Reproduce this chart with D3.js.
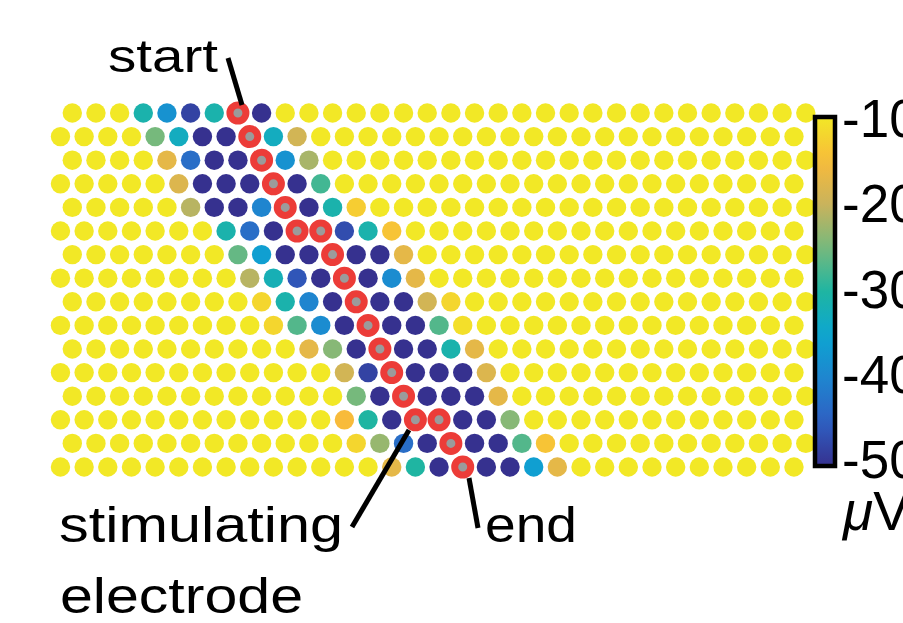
<!DOCTYPE html>
<html>
<head>
<meta charset="utf-8">
<script src="https://cdn.jsdelivr.net/npm/d3@7"></script>
<style>
  body { margin: 0; background: #fff; }
  svg { display: block; font-family: "Liberation Sans", Arial, sans-serif; }
</style>
</head>
<body>
<svg width="903" height="623"></svg>
<script>
// electrode array: 16 rows x 32 columns, odd rows shifted half a step left
let nRows = 16,
  nCols = 32,
  baseValue = -10;

// non-baseline part of each row: first column of the band, then its values (µV)
let bandStart = [3, 4, 4, 5, 5, 7, 7, 8, 8, 9, 10, 12, 12, 12, 12, 14];
let bandValues = [
  [-31, -38, -48, -31, -50, -50],
  [-25, -33, -50, -50, -50, -33, -19],
  [-17, -43, -50, -50, -50, -38, -22],
  [-18, -50, -50, -50, -50, -50, -28],
  [-21, -50, -50, -40, -50, -50, -31, -13],
  [-31, -43, -50, -50, -50, -47, -31, -14],
  [-26, -36, -50, -50, -50, -50, -50, -17],
  [-21, -32, -46, -50, -50, -50, -39, -17],
  [-12, -31, -40, -50, -50, -50, -50, -19, -12],
  [-12, -27, -39, -50, -50, -50, -50, -27, -11],
  [-17, -24, -50, -50, -50, -50, -31, -17],
  [-19, -48, -50, -50, -50, -50, -18],
  [-25, -50, -50, -50, -50, -50, -17],
  [-15, -30, -50, -50, -50, -50, -50, -24],
  [-12, -23, -43, -50, -50, -50, -50, -27, -14],
  [-17, -30, -50, -50, -50, -50, -36, -17],
];

// stimulating electrodes along the path, start -> end
let pathRows = [0, 1, 2, 3, 4, 5, 5, 6, 7, 8, 9, 10, 11, 12, 13, 13, 14, 15];
let pathCols = [7, 8, 8, 9, 9, 10, 11, 11, 12, 12, 13, 13, 14, 14, 15, 16, 16, 17];

let colorTicks = [-10, -20, -30, -40, -50];
let colorDomain = [-50, -45, -40, -35, -30, -25, -20, -15, -10];
let colorRange = ["#36318f", "#2f5fc2", "#1f85cf", "#0ca6d2", "#1fb5a2",
  "#76b97c", "#c9b35c", "#f8bb3a", "#f2e826"];

let svg = d3.select("svg");

let xScale = d3.scaleLinear().domain([0, nCols - 1]).range([72.3, 805.8]),
  yScale = d3.scaleLinear().domain([0, nRows - 1]).range([113, 467]);

let color = d3.scaleLinear().domain(colorDomain).range(colorRange)
  .interpolate(d3.interpolateRgb).clamp(true);

function cx(r, c) {
  return r % 2 == 1 ? xScale(c - 0.5) : xScale(c);
}

let cells = [];
for (let r = 0; r < nRows; r++) {
  for (let c = 0; c < nCols; c++) {
    let k = c - bandStart[r];
    let v = k >= 0 && k < bandValues[r].length ? bandValues[r][k] : baseValue;
    cells.push({ r: r, c: c, v: v });
  }
}

svg.append("g")
  .selectAll("circle")
  .data(cells)
  .enter()
  .append("circle")
  .attr("cx", function (d) { return cx(d.r, d.c); })
  .attr("cy", function (d) { return yScale(d.r); })
  .attr("r", 9.7)
  .style("fill", function (d) { return color(d.v); });

let path = pathRows.map(function (r, i) { return { r: r, c: pathCols[i] }; });

svg.append("g")
  .selectAll("circle")
  .data(path)
  .enter()
  .append("circle")
  .attr("cx", function (d) { return cx(d.r, d.c); })
  .attr("cy", function (d) { return yScale(d.r); })
  .attr("r", 8)
  .style("fill", "#9b9b9b")
  .style("stroke", "#ec3c38")
  .style("stroke-width", 7);

// callout lines
let callouts = [
  [228, 58, 242, 105],
  [409, 430, 352, 527],
  [469, 478, 478, 528],
];
svg.append("g")
  .selectAll("line")
  .data(callouts)
  .enter()
  .append("line")
  .attr("x1", function (d) { return d[0]; })
  .attr("y1", function (d) { return d[1]; })
  .attr("x2", function (d) { return d[2]; })
  .attr("y2", function (d) { return d[3]; })
  .style("stroke", "#000")
  .style("stroke-width", 5);

let labels = [
  { t: "start", x: 108, y: 72, s: 46, w: 110 },
  { t: "stimulating", x: 59, y: 542, s: 50, w: 284 },
  { t: "electrode", x: 60, y: 613, s: 50, w: 243 },
  { t: "end", x: 485, y: 542, s: 50, w: 92 },
];
svg.append("g")
  .selectAll("text")
  .data(labels)
  .enter()
  .append("text")
  .attr("x", function (d) { return d.x; })
  .attr("y", function (d) { return d.y; })
  .attr("textLength", function (d) { return d.w; })
  .attr("lengthAdjust", "spacingAndGlyphs")
  .style("font-size", function (d) { return d.s + "px"; })
  .style("fill", "#000")
  .text(function (d) { return d.t; });

// colorbar
let defs = svg.append("defs");
let grad = defs.append("linearGradient")
  .attr("id", "cbar")
  .attr("x1", 0).attr("y1", 1).attr("x2", 0).attr("y2", 0);
grad.selectAll("stop")
  .data(d3.range(0, 1.0001, 0.05))
  .enter()
  .append("stop")
  .attr("offset", function (d) { return d; })
  .attr("stop-color", function (d) { return color(-50 + 40 * d); });

svg.append("rect")
  .attr("x", 815)
  .attr("y", 117)
  .attr("width", 20)
  .attr("height", 349)
  .style("fill", "url(#cbar)")
  .style("stroke", "#000")
  .style("stroke-width", 4.5);

let cScale = d3.scaleLinear().domain([-50, -10]).range([459, 118]);

svg.append("g")
  .selectAll("text")
  .data(colorTicks)
  .enter()
  .append("text")
  .attr("x", 842)
  .attr("y", function (d) { return cScale(d) + 19; })
  .style("font-size", "53px")
  .style("fill", "#000")
  .text(function (d) { return "-" + Math.abs(d); });

let unit = svg.append("text")
  .attr("x", 843)
  .attr("y", 530)
  .style("font-size", "55px")
  .style("fill", "#000");
unit.append("tspan").style("font-style", "italic").text("\u03bc");
unit.append("tspan").text("V");
</script>
</body>
</html>
